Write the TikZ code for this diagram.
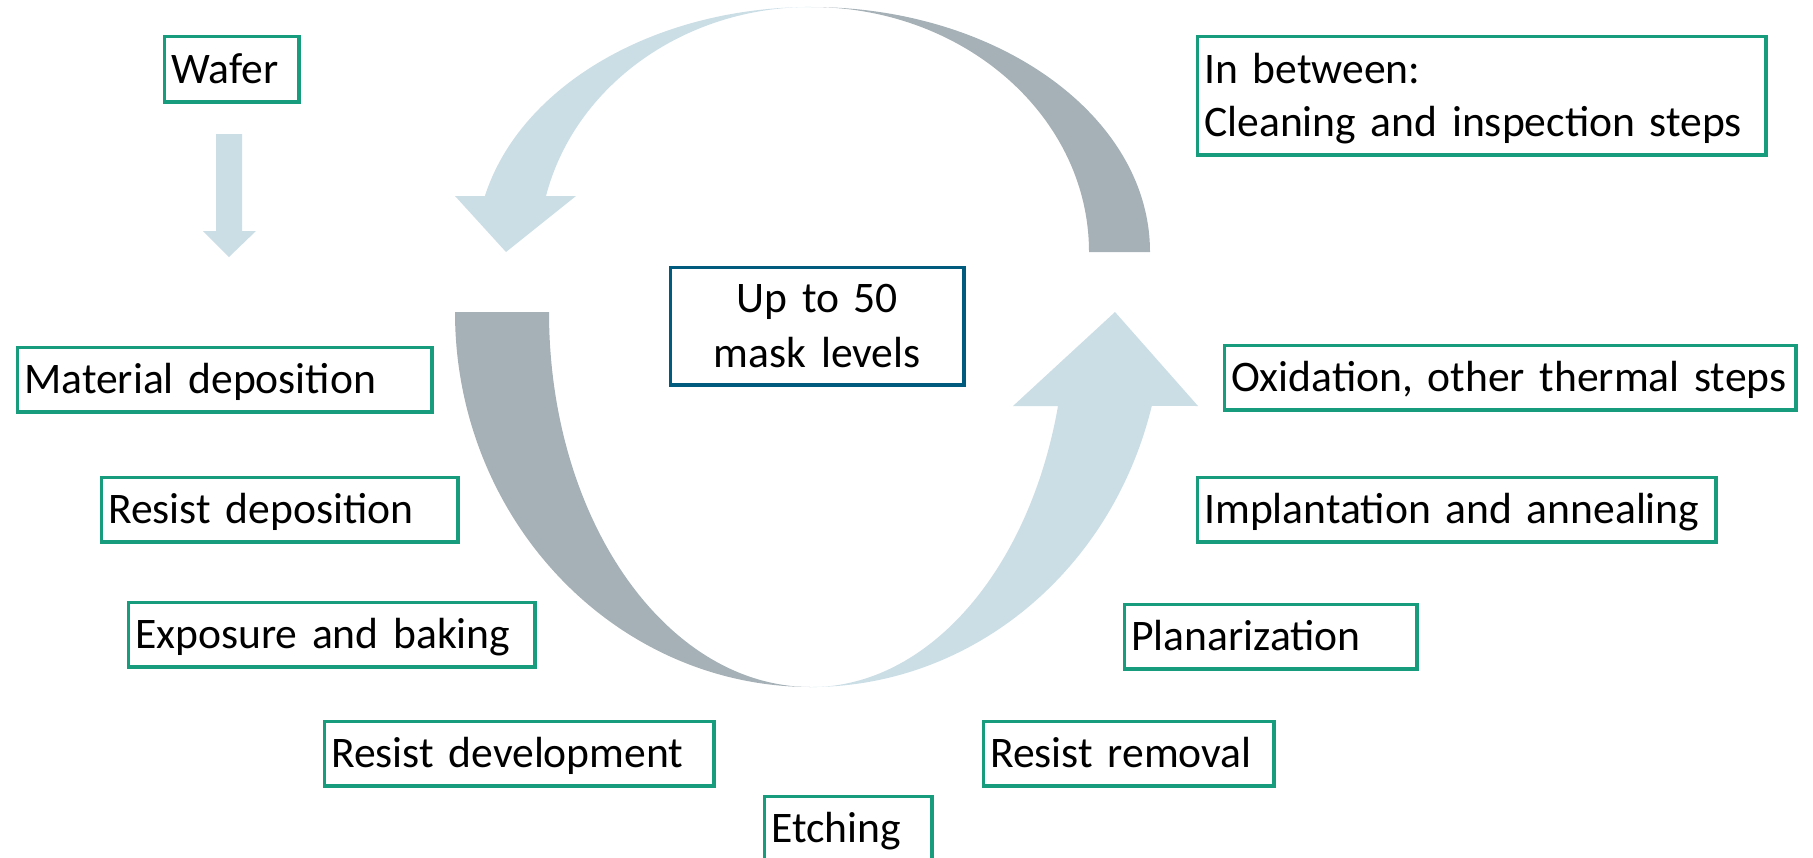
\documentclass[tikz,border=0pt]{standalone}
\usepackage{fontspec}
\setmainfont{Carlito}
\definecolor{fgreen}{HTML}{179C7D}
\definecolor{fblue}{HTML}{005B7F}
\definecolor{arrowlight}{HTML}{CBDEE6}
\definecolor{arrowgray}{HTML}{A5B1B6}
\tikzset{
  box/.style={draw=fgreen, line width=2.7pt, inner xsep=5pt, inner ysep=0pt,
    align=left, anchor=north west, font=\fontsize{32.7}{40}\selectfont,
    text height=27.5pt, text depth=6.5pt},
  centerbox/.style={box, draw=fblue, align=center, font=\fontsize{32.7}{41}\selectfont}
}
\newcommand\stepnode[7][]{%
  \pgfmathsetmacro\bxw{(#5-#3-3.6)*0.75-10}%
  \pgfmathsetmacro\bxh{(#6-#4-3.6)*0.75}%
  \node[box, #1, text width=\bxw pt, minimum height=\bxh pt] (#2) at ({#3+1.8},{#4+1.8}) {\mbox{#7}};}
\begin{document}
\begin{tikzpicture}[x=0.75pt,y=-0.75pt]
\path[use as bounding box, clip] (0,0) rectangle (1813,857);

% small down arrow below the wafer
\fill[arrowlight] (216,134) -- (242,134) -- (242,231) -- (256,231) -- (229,257)
  -- (203,231) -- (216,231) -- cycle;

% top cycle arcs
\fill[arrowgray] (811,7) arc[start angle=-90, end angle=0, x radius=339, y radius=245]
  -- (1089,252) arc[start angle=0, end angle=-90, x radius=278, y radius=245] -- cycle;
\fill[arrowlight] (811,7) arc[start angle=270, end angle=193.2, x radius=335, y radius=245]
  -- (455,196) -- (506,252) -- (576,196) -- (546,196)
  arc[start angle=193.2, end angle=270, x radius=272, y radius=245] -- cycle;

% bottom cycle arcs
\fill[arrowgray] (455,312) arc[start angle=180, end angle=90, x radius=356, y radius=375]
  arc[start angle=90, end angle=180, x radius=262, y radius=375] -- cycle;
\fill[arrowlight] (811,687) arc[start angle=90, end angle=14.5, x radius=352, y radius=375]
  -- (1198,406) -- (1115,312) -- (1013,406) -- (1058,406)
  arc[start angle=14.5, end angle=90, x radius=255, y radius=375] -- cycle;

% boxes
\stepnode{wafer}{161}{33}{299}{102}{Wafer}
\pgfmathsetmacro\ibw{(1766-1194-3.6)*0.75-10}
\pgfmathsetmacro\ibh{(155-33-3.6)*0.75}
\node[box, text width=\ibw pt, minimum height=\ibh pt, text depth=46.5pt]
  (between) at (1195.8,34.8) {\mbox{In between:}\\\mbox{Cleaning and inspection steps}};
\stepnode{matdep}{14}{344}{432}{412}{Material deposition}
\stepnode{resdep}{98}{474}{458}{542}{Resist deposition}
\stepnode{expo}{125}{599}{535}{667}{Exposure and baking}
\stepnode{resdev}{321}{718}{714}{786}{Resist development}
\stepnode{etch}{761}{793}{932}{861}{Etching}
\stepnode{resrem}{980}{718}{1274}{786}{Resist removal}
\stepnode{planar}{1121}{601}{1417}{669}{Planarization}
\stepnode{implant}{1194}{474}{1716}{542}{Implantation and annealing}
\stepnode{oxid}{1221}{342}{1796}{410}{Oxidation, other thermal steps}
\pgfmathsetmacro\cbw{(964-667-3.6)*0.75-10}
\pgfmathsetmacro\cbh{(385-264-3.6)*0.75}
\node[centerbox, text width=\cbw pt, minimum height=\cbh pt, text depth=47.5pt]
  (masks) at (668.8,265.8) {Up to 50\\mask levels};
\end{tikzpicture}
\end{document}
